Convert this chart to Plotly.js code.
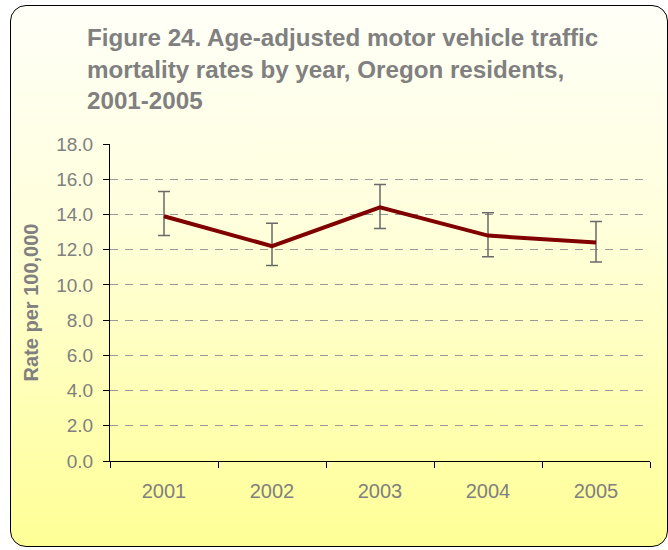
<!DOCTYPE html>
<html>
<head>
<meta charset="utf-8">
<script src="https://cdn.plot.ly/plotly-3.0.1.min.js"></script>
<style>
  html, body { margin: 0; padding: 0; background: #ffffff; }
  #wrap { position: relative; width: 668px; height: 550px; overflow: hidden; }
  #frame {
    position: absolute; left: 10px; top: 5px; width: 656px; height: 540px;
    border: 1.5px solid #000; border-radius: 16px;
    background: linear-gradient(to bottom, #FFFFF8 0%, #FFFFDC 40%, #FFFF96 100%);
  }
  #chart { position: absolute; left: 0; top: 0; width: 668px; height: 550px; }
</style>
</head>
<body>
<div id="wrap">
  <div id="frame"></div>
  <div id="chart"></div>
</div>
<script>
const years = ['2001', '2002', '2003', '2004', '2005'];
const rates = [13.9, 12.2, 14.4, 12.8, 12.4];
const upper = [15.3, 13.5, 15.7, 14.1, 13.6];
const lower = [12.8, 11.1, 13.2, 11.6, 11.3];
const yTicks = [0, 2, 4, 6, 8, 10, 12, 14, 16, 18];

const plus = rates.map((r, i) => +(upper[i] - r).toFixed(2));
const minus = rates.map((r, i) => +(r - lower[i]).toFixed(2));

const trace = {
  type: 'scatter',
  mode: 'lines',
  x: years,
  y: rates,
  line: { color: '#800000', width: 4 },
  error_y: {
    type: 'data', symmetric: false, array: plus, arrayminus: minus,
    color: '#6a6a6a', thickness: 1.5, width: 6, visible: true
  },
  hoverinfo: 'skip'
};

const layout = {
  width: 668, height: 550,
  paper_bgcolor: 'rgba(0,0,0,0)',
  plot_bgcolor: 'rgba(0,0,0,0)',
  margin: { l: 110, r: 18, t: 144, b: 89 },
  showlegend: false,
  font: { family: 'Liberation Sans, Arial, sans-serif', color: '#808080' },
  title: {
    text: '<b>Figure 24. Age-adjusted motor vehicle traffic<br>mortality rates by year, Oregon residents,<br>2001-2005</b>',
    x: 87 / 668, xref: 'container', xanchor: 'left',
    y: 0.965, yref: 'container', yanchor: 'top',
    pad: { t: 27, l: 0 },
    font: { family: 'Liberation Sans, Arial, sans-serif', size: 24.2, color: '#808080' }
  },
  xaxis: {
    type: 'category',
    range: [-0.5, 4.5],
    showline: true, linecolor: '#000', linewidth: 1,
    ticks: 'outside', tickson: 'boundaries', ticklen: 6, tickcolor: '#000', tickwidth: 1,
    showgrid: false, zeroline: false,
    tickfont: { size: 20, color: '#808080' },
    ticklabelstandoff: 12
  },
  yaxis: {
    range: [0, 18],
    tickvals: yTicks,
    ticktext: yTicks.map(v => v.toFixed(1)),
    showline: true, linecolor: '#000', linewidth: 1,
    ticks: 'outside', ticklen: 6, tickcolor: '#000', tickwidth: 1,
    showgrid: true, gridcolor: '#999999', griddash: '8px,7px', gridwidth: 1,
    zeroline: false,
    tickfont: { size: 19, color: '#808080' },
    ticklabelstandoff: 6,
    title: {
      text: '<b>Rate per 100,000</b>',
      font: { size: 20, color: '#808080' },
      standoff: 12
    }
  }
};

Plotly.newPlot('chart', [trace], layout, { displayModeBar: false, staticPlot: true });
</script>
</body>
</html>
